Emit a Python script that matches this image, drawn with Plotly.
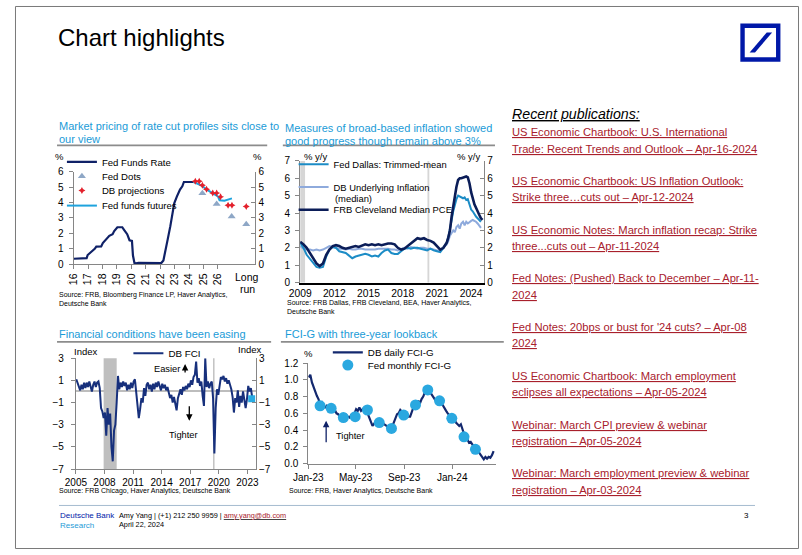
import plotly.graph_objects as go
import numpy as np
import pandas as pd

# ======================= DATA =======================
# Chart 1: Fed funds rate, Fed dots, DB projections, futures (x in years, '16 = 2016)
ffr_year = [16.0, 16.5, 16.9, 16.97, 17.24, 17.46, 17.57, 17.91, 18.02, 18.25, 18.47, 18.70, 18.81,
            19.03, 19.37, 19.48, 19.71, 19.87, 20.04, 20.11, 20.22, 20.5, 21.0, 21.5, 22.07, 22.22,
            22.40, 22.52, 22.70, 22.85, 22.97, 23.15, 23.37, 23.53, 23.64, 24.31]
ffr_rate = [0.36, 0.38, 0.40, 0.60, 0.80, 1.00, 1.15, 1.16, 1.37, 1.63, 1.84, 1.95, 2.15,
            2.40, 2.40, 2.25, 1.95, 1.56, 1.52, 0.57, 0.05, 0.09, 0.08, 0.08, 0.08, 0.25,
            1.00, 1.63, 2.47, 3.32, 3.95, 4.38, 4.84, 5.05, 5.33, 5.33]
futures_year = [24.31, 24.87, 25.20, 25.65, 26.00, 26.11, 26.45, 26.97]
futures_rate = [5.33, 5.10, 4.85, 4.60, 4.40, 4.15, 4.12, 4.27]
dbproj_year = [24.43, 24.70, 24.92, 25.21, 25.64, 25.91, 26.18, 26.70, 26.97, 27.96]
dbproj_rate = [5.37, 5.37, 5.12, 4.86, 4.61, 4.61, 4.38, 3.83, 3.83, 3.75]
dots_year = [24.92, 25.91, 26.95, 27.96]
dots_rate = [4.6, 3.9, 3.1, 2.6]
c1_tick_vals = [16, 17, 18, 19, 20, 21, 22, 23, 24, 25, 26]
c1_tick_text = ["16", "17", "18", "19", "20", "21", "22", "23", "24", "25", "26"]

# Chart 2: broad-based inflation measures (% y/y)
infl_year = [2009.00, 2009.29, 2009.57, 2009.86, 2010.14, 2010.43, 2010.71, 2011.00, 2011.29, 2011.57,
             2011.86, 2012.14, 2012.43, 2012.71, 2013.00, 2013.29, 2013.57, 2013.86, 2014.14, 2014.43,
             2014.71, 2015.00, 2015.29, 2015.57, 2015.86, 2016.14, 2016.43, 2016.71, 2017.00, 2017.29,
             2017.57, 2017.86, 2018.14, 2018.43, 2018.71, 2019.00, 2019.29, 2019.57, 2019.86, 2020.14,
             2020.43, 2020.71, 2021.00, 2021.29, 2021.57, 2021.86, 2022.00, 2022.14, 2022.29, 2022.43,
             2022.57, 2022.71, 2022.86, 2023.00, 2023.14, 2023.29, 2023.43, 2023.57, 2023.71, 2023.86,
             2024.00, 2024.14, 2024.29, 2024.43, 2024.57, 2024.71, 2024.86, 2025.00]
cleveland_pce = [2.35, 2.2, 2.0, 1.7, 1.4, 1.1, 0.95, 1.1, 1.6, 1.9, 2.1, 2.15, 2.1, 2.0, 1.95, 2.0, 2.05,
                 2.1, 2.05, 2.15, 2.2, 2.15, 2.2, 2.15, 2.2, 2.15, 2.2, 2.25, 2.25, 2.2, 2.0, 1.9, 1.95,
                 2.1, 2.2, 2.35, 2.55, 2.5, 2.55, 2.45, 2.4, 2.3, 2.1, 1.9, 2.0, 2.3,
                 2.6, 3.0, 3.8, 4.4, 4.9, 5.5, 5.9, 6.0, 6.0, 6.05, 6.05, 6.1, 6.05, 5.7, 5.2, 4.8,
                 4.5, 4.3, 4.05, 3.9, 3.7, 3.6]
dallas_trimmed = [2.3, 2.0, 1.6, 1.35, 1.15, 0.9, 0.85, 0.9, 1.5, 1.9, 2.05, 2.0, 1.8, 1.75, 1.7, 1.55,
                  1.4, 1.5, 1.55, 1.6, 1.65, 1.6, 1.5, 1.55, 1.5, 1.7, 1.85, 1.9, 1.7, 1.65, 1.65, 1.8,
                  1.95, 2.0, 1.95, 2.0, 2.0, 1.95, 1.9, 1.85, 1.95, 1.85, 1.8, 1.75, 2.0, 2.3,
                  2.6, 3.0, 3.6, 4.1, 4.5, 4.8, 5.0, 4.95, 4.9, 4.85, 4.9, 4.75, 4.8, 4.4, 4.2, 4.1,
                  3.9, 3.8, 3.7, 3.6, 3.5, None]
db_underlying = [2.1, 1.95, 1.9, 1.9, 1.85, 1.9, 1.85, 1.9, 2.0, 2.1, 2.05, 2.0, 1.95, 1.95, 1.9, 1.95,
                 1.9, 1.9, 1.95, 1.95, 1.9, 1.9, 1.9, 1.9, 1.95, 1.95, 1.95, 1.95, 1.9, 1.9, 1.85, 1.95,
                 2.0, 1.95, 2.05, 2.0, 1.95, 2.0, 2.0, 1.95, 1.95, 1.9, 1.85, 1.85, 2.0, 2.2,
                 2.4, 2.7, 2.85, 3.0, 2.9, 3.2, 3.3, 3.1, 3.4, 3.5, 3.3, 3.5, 3.4, 3.5, 3.55, 3.6,
                 3.55, 3.5, 3.4, 3.3, 3.15, None]
infl_recession_start = [2009.00, 2020.17]
infl_recession_end = [2009.43, 2020.33]
c2_tick_vals = [2009, 2012, 2015, 2018, 2021, 2024]

# Chart 3: DB financial conditions index
fci_start_year, fci_end_year = 2005.04, 2023.50
db_fci = [1.1, 0.8, 0.5, 0.1, 0.6, 0.2, 0.8, 0.3, 0.8, 0.4, 0.9, 0.5, 0.0, 0.6, 0.9, 0.4, 0.8, 0.9,
          0.3, -1.5, -1.8, -2.4, -1.9, -4.0, -1.5, -3.0, -2.0, -5.0, -6.3, -3.5, -3.0, -1.0, 1.4,
          0.2, 0.8, 0.4, 0.9, 0.5, 0.8, 0.1, 0.6, 0.2, 0.8, 0.3, 0.9, 1.1, 0.0, -1.3, -2.4, -1.6,
          -0.6, -1.0, 0.3, -0.4, 0.6, 0.8, 0.2, 0.6, 0.0, 0.7, 0.2, 0.8, 0.4, 0.9, 0.5, 0.1, 0.7,
          0.3, 0.6, 0.1, 0.4, -0.1, -0.6, -0.3, -1.0, -0.5, -1.2, -1.7, -0.6, -0.2, 0.2, -0.3, 0.4,
          0.1, 0.5, 0.2, 0.7, 0.4, 1.0, 0.6, 1.3, 1.5, 2.7, 0.8, 1.2, 0.5, 0.9, -0.4, -1.3, 3.0,
          0.4, 0.9, 0.3, 0.7, 0.9, -0.6, -5.6, -1.5, 0.2, -0.3, 0.7, 1.3, 1.1, 1.4, 0.9, 1.2, 0.7,
          1.0, 0.6, 0.2, -0.5, -1.9, -0.6, -1.0, 0.1, -1.4, -0.4, -1.0, 0.0, -0.6, -1.5, -0.7, 0.5,
          0.0, 0.3, -0.5]
fci_latest_year = [2023.45]
fci_latest_value = [-0.65]
fci_recession_start = [2007.91, 2019.40]
fci_recession_end = [2009.28, 2019.55]
c3_tick_vals = [2005, 2008, 2011, 2014, 2017, 2020, 2023]
c3_y_ticks = [-7, -5, -3, -1, 1, 3]

# Chart 4: FCI-G with three-year lookback
fcig_start, fcig_end = "2023-01-02", "2024-04-15"
fcig_daily = [1.03, 1.06, 0.97, 0.91, 0.85, 0.81, 0.77, 0.71, 0.73, 0.68,
              0.67, 0.69, 0.65, 0.68, 0.67, 0.63, 0.64, 0.60, 0.59, 0.56,
              0.56, 0.58, 0.55, 0.58, 0.56, 0.55, 0.58, 0.56, 0.60, 0.65,
              0.63, 0.67, 0.63, 0.65, 0.62, 0.63, 0.60, 0.56, 0.50, 0.45,
              0.47, 0.50, 0.49, 0.50, 0.48, 0.49, 0.47, 0.46, 0.44, 0.45,
              0.43, 0.44, 0.49, 0.54, 0.59, 0.60, 0.64, 0.62, 0.58, 0.56,
              0.59, 0.56, 0.56, 0.62, 0.67, 0.69, 0.71, 0.75, 0.72, 0.77,
              0.80, 0.85, 0.87, 0.89, 0.86, 0.82, 0.80, 0.77, 0.74, 0.73,
              0.76, 0.73, 0.69, 0.67, 0.63, 0.60, 0.58, 0.55, 0.53, 0.54,
              0.49, 0.47, 0.45, 0.47, 0.42, 0.35, 0.33, 0.28, 0.25, 0.26,
              0.23, 0.20, 0.19, 0.16, 0.14, 0.10, 0.08, 0.05, 0.08, 0.06,
              0.08, 0.07, 0.10, 0.15]
fcig_monthly_date = ["2023-01-31", "2023-02-28", "2023-03-31", "2023-04-30", "2023-05-31", "2023-06-30",
                     "2023-07-31", "2023-08-31", "2023-09-30", "2023-10-31", "2023-11-30", "2023-12-31",
                     "2024-01-31", "2024-02-29"]
fcig_monthly = [0.69, 0.66, 0.55, 0.56, 0.64, 0.49, 0.42, 0.58, 0.70, 0.88, 0.75, 0.54, 0.32, 0.17]
c4_tick_vals = ["2023-01-01", "2023-05-01", "2023-09-01", "2024-01-01"]
c4_tick_text = ["Jan-23", "May-23", "Sep-23", "Jan-24"]

# Publications list (text)
publications = [
    ["US Economic Chartbook: U.S. International", "Trade: Recent Trends and Outlook \u2013 Apr-16-2024"],
    ["US Economic Chartbook: US Inflation Outlook:", "Strike three\u2026cuts out \u2013 Apr-12-2024"],
    ["US Economic Notes: March inflation recap: Strike", "three...cuts out \u2013 Apr-11-2024"],
    ["Fed Notes: (Pushed) Back to December \u2013 Apr-11-", "2024"],
    ["Fed Notes: 20bps or bust for '24 cuts? \u2013 Apr-08", "2024"],
    ["US Economic Chartbook: March employment", "eclipses all expectations \u2013 Apr-05-2024"],
    ["Webinar: March CPI preview & webinar", "registration \u2013 Apr-05-2024"],
    ["Webinar: March employment preview & webinar", "registration \u2013 Apr-03-2024"],
]

# ======================= LAYOUT HELPERS =======================
W, H = 802, 555
FONT = "Arial, 'Liberation Sans', sans-serif"
GREY = "#868686"
NAVY = "#0f2167"
TITLE_BLUE = "#1a9bd7"
LINK_RED = "#a8202c"


def px(x):
    return x / W


def py(y):
    return 1 - y / H


TICKFONT = dict(family=FONT, size=10, color="black")

fig = go.Figure()

# ---------- Chart 1 traces ----------
fig.add_trace(go.Scatter(x=ffr_year, y=ffr_rate, mode="lines", name="Fed Funds Rate",
                         line=dict(color=NAVY, width=2.2), xaxis="x", yaxis="y", legend="legend"))
fig.add_trace(go.Scatter(x=futures_year, y=futures_rate, mode="lines", name="Fed funds futures",
                         line=dict(color="#1ea3dd", width=2), xaxis="x", yaxis="y", legend="legend4"))
fig.add_trace(go.Scatter(x=dots_year, y=dots_rate, mode="markers", name="Fed Dots",
                         marker=dict(symbol="triangle-up", size=7, color="#8ea7c6"),
                         xaxis="x", yaxis="y", legend="legend2"))
fig.add_trace(go.Scatter(x=dbproj_year, y=dbproj_rate, mode="markers", name="DB projections",
                         marker=dict(symbol="star-diamond", size=5, color="#e3202b"),
                         xaxis="x", yaxis="y", legend="legend3"))
fig.add_trace(go.Scatter(x=[None], y=[None], xaxis="x", yaxis="y2", showlegend=False, hoverinfo="skip"))

# ---------- Chart 2 traces ----------
fig.add_trace(go.Scatter(x=infl_year, y=db_underlying, mode="lines", name="DB Underlying Inflation",
                         line=dict(color="#8eaadc", width=2), xaxis="x2", yaxis="y3", legend="legend6"))
fig.add_trace(go.Scatter(x=infl_year, y=dallas_trimmed, mode="lines", name="Fed Dallas: Trimmed-mean",
                         line=dict(color="#1c8cc6", width=2), xaxis="x2", yaxis="y3", legend="legend5"))
fig.add_trace(go.Scatter(x=infl_year, y=cleveland_pce, mode="lines", name="FRB Cleveland Median PCE",
                         line=dict(color="#0b1d58", width=2.6), xaxis="x2", yaxis="y3", legend="legend7"))
fig.add_trace(go.Scatter(x=[None], y=[None], xaxis="x2", yaxis="y4", showlegend=False, hoverinfo="skip"))

# ---------- Chart 3 traces ----------
fci_year = np.linspace(fci_start_year, fci_end_year, len(db_fci))
fig.add_trace(go.Scatter(x=fci_year, y=db_fci, mode="lines", name="DB FCI",
                         line=dict(color="#17307c", width=2), xaxis="x3", yaxis="y5", legend="legend8"))
fig.add_trace(go.Scatter(x=fci_latest_year, y=fci_latest_value, mode="markers", showlegend=False,
                         marker=dict(symbol="square", size=7, color="#29abe2"), xaxis="x3", yaxis="y5"))
fig.add_trace(go.Scatter(x=[None], y=[None], xaxis="x3", yaxis="y6", showlegend=False, hoverinfo="skip"))

# ---------- Chart 4 traces ----------
fcig_dates = pd.date_range(fcig_start, fcig_end, periods=len(fcig_daily))
fig.add_trace(go.Scatter(x=fcig_dates, y=fcig_daily, mode="lines", name="DB daily FCI-G",
                         line=dict(color="#13286e", width=2.2), xaxis="x4", yaxis="y7", legend="legend9"))
fig.add_trace(go.Scatter(x=fcig_monthly_date, y=fcig_monthly, mode="markers", name="Fed monthly FCI-G",
                         marker=dict(symbol="circle", size=11, color="#2aa8e0"),
                         xaxis="x4", yaxis="y7", legend="legend10"))


# ======================= AXES =======================
def yax(rng, dom=None, right=False, **kw):
    d = dict(range=rng, showline=True, linecolor=GREY, linewidth=1,
             ticks="inside" if right else "outside", ticklen=4,
             tickcolor=GREY, showgrid=False, zeroline=False, tickfont=TICKFONT, fixedrange=True,
             ticklabelstandoff=0 if right else 3)
    if dom is not None:
        d["domain"] = dom
    d.update(kw)
    return d


layout_axes = dict(
    # chart 1
    xaxis=dict(domain=[px(60), px(246)], range=[16, 28.6], anchor="y", showline=True, linecolor=GREY,
               ticks="outside", ticklen=4, tickcolor=GREY, tickvals=c1_tick_vals, ticktext=c1_tick_text,
               tickangle=-90, showgrid=False, zeroline=False, tickfont=dict(TICKFONT, size=10.5)),
    yaxis=yax([0, 6], [py(264), py(169.3)], anchor="x", dtick=1),
    yaxis2=yax([0, 6], right=True, overlaying="y", side="right", anchor="x", dtick=1),
    # chart 2
    xaxis2=dict(domain=[px(291.7), px(480)], range=[2009, 2025.15], anchor="y3", showline=True,
                linecolor="black", linewidth=2, ticks="", tickvals=c2_tick_vals, showgrid=False,
                zeroline=False, tickfont=dict(TICKFONT, size=10.3)),
    yaxis3=yax([0, 7], [py(282.7), py(158.3)], anchor="x2", dtick=1),
    yaxis4=yax([0, 7], right=True, overlaying="y3", side="right", anchor="x2", dtick=1),
    # chart 3
    xaxis3=dict(domain=[px(62.3), px(246.5)], range=[2005, 2023.9], anchor="y5", showline=True,
                linecolor=GREY, ticks="outside", ticklen=4, tickcolor=GREY, tickvals=c3_tick_vals,
                showgrid=False, zeroline=False, tickfont=TICKFONT),
    yaxis5=yax([-7, 3], [py(473.3), py(360)], anchor="x3", tickvals=c3_y_ticks,
               zeroline=True, zerolinecolor="#bdbdbd", zerolinewidth=1.5, ticklabelstandoff=5),
    yaxis6=yax([-7, 3], right=True, overlaying="y5", side="right", anchor="x3", tickvals=c3_y_ticks),
    # chart 4
    xaxis4=dict(domain=[px(300), px(492)], type="date", range=["2023-01-01", "2024-04-21"], anchor="y7",
                showline=True, linecolor=GREY, ticks="outside", ticklen=4, tickcolor=GREY,
                tickvals=c4_tick_vals, ticktext=c4_tick_text, showgrid=False, zeroline=False,
                tickfont=TICKFONT),
    yaxis7=yax([0, 1.2], [py(467.7), py(365)], anchor="x4", dtick=0.2, tickformat=".1f"),
)


# ======================= LEGENDS =======================
def leg(text_x, y_c, size):
    return dict(x=px(text_x - 40), y=py(y_c), xanchor="left", yanchor="middle",
                bgcolor="rgba(0,0,0,0)", borderwidth=0, itemwidth=30,
                font=dict(family=FONT, size=size, color="black"))


legends = dict(
    legend=leg(88, 159.3, 9.6), legend2=leg(88, 174, 9.6), legend3=leg(88, 188.7, 9.6),
    legend4=leg(88, 204, 9.6),
    legend5=leg(325, 161.7, 9.4), legend6=leg(325, 185, 9.4), legend7=leg(325, 208.3, 9.4),
    legend8=leg(156, 355, 9.8),
    legend9=leg(360, 354, 9.8), legend10=leg(360, 367, 9.8),
)


# ======================= ANNOTATIONS =======================
def txt(x, y, s, size=10.0, color="black", xanchor="left", yanchor="middle"):
    return dict(x=px(x), y=py(y), xref="paper", yref="paper", text=s, showarrow=False,
                xanchor=xanchor, yanchor=yanchor, font=dict(family=FONT, size=size, color=color))


def arrow(x, y_head, dy_tail, color="black"):
    return dict(x=px(x), y=py(y_head), xref="paper", yref="paper", text="", showarrow=True,
                ax=0, ay=dy_tail, arrowhead=2, arrowsize=1, arrowwidth=1.3, arrowcolor=color)


ann = []
ann.append(txt(42, 32, "Chart highlights", size=24))
# chart titles
ann.append(txt(43, 122.7, "Market pricing of rate cut profiles sits close to", 11, TITLE_BLUE))
ann.append(txt(43, 135.5, "our view", 11, TITLE_BLUE))
ann.append(txt(274, 124.5, "Measures of broad-based inflation showed", 11, TITLE_BLUE))
ann.append(txt(274, 137.5, "good progress though remain above 3%", 11, TITLE_BLUE))
ann.append(txt(43, 335.5, "Financial conditions have been easing", 11, TITLE_BLUE))
ann.append(txt(274, 335.5, "FCI-G with three-year lookback", 11, TITLE_BLUE))
# sources
ann.append(txt(43, 295.5, "Source: FRB, Bloomberg Finance LP, Haver Analytics,", 7))
ann.append(txt(43, 304.5, "Deutsche Bank", 7))
ann.append(txt(276, 303.5, "Source: FRB Dallas, FRB Cleveland, BEA, Haver Analytics,", 7))
ann.append(txt(276, 312.5, "Deutsche Bank", 7))
ann.append(txt(43, 495.5, "Source: FRB Chicago, Haver Analytics, Deutsche Bank", 7))
ann.append(txt(278, 495.5, "Source: FRB, Haver Analytics, Deutsche Bank", 7))
# axis unit labels
ann.append(txt(46, 153.5, "%", 9.5, xanchor="center"))
ann.append(txt(248.5, 153.5, "%", 9.5, xanchor="center"))
ann.append(txt(237.5, 276.5, "Long", 10.5, xanchor="center"))
ann.append(txt(237.5, 289, "run", 10.5, xanchor="center"))
ann.append(txt(307.5, 153.5, "% y/y", 9.5, xanchor="center"))
ann.append(txt(463.5, 153.5, "% y/y", 9.5, xanchor="center"))
ann.append(txt(325, 196.7, "(median)", 9.4))
ann.append(txt(71.7, 353.3, "Index", 9.5, xanchor="center"))
ann.append(txt(240, 350.7, "Index", 9.5, xanchor="center"))
ann.append(txt(300, 355, "%", 9.5, xanchor="center"))
# easier / tighter
ann.append(txt(140, 371.5, "Easier", 9.3))
ann.append(arrow(174, 366, 10))
ann.append(txt(155, 438.3, "Tighter", 9.3))
ann.append(arrow(178.3, 424, -16))
ann.append(txt(326.5, 439.3, "Tighter", 9.3))
ann.append(arrow(318.3, 424, 23, color=NAVY))
# recent publications
ann.append(txt(506.5, 110, "<i><u>Recent publications:</u></i>", 14.2))
for i, (l1, l2) in enumerate(publications):
    y0 = 129 + i * 49.8
    ann.append(txt(506.5, y0, "<u>" + l1 + "</u>", 11.2, LINK_RED))
    ann.append(txt(506.5, y0 + 16.7, "<u>" + l2 + "</u>", 11.2, LINK_RED))
# footer
ann.append(txt(44, 520.5, "Deutsche Bank", 8, "#0018a8"))
ann.append(txt(44, 530.5, "Research", 8, "#1f9bd7"))
ann.append(txt(104.5, 520.5, "Amy Yang | (+1) 212 250 9959 | <u><span style='color:" + LINK_RED +
               "'>amy.yang@db.com</span></u>", 7.3))
ann.append(txt(104.5, 529.5, "April 22, 2024", 7.3))
ann.append(txt(748, 520.5, "3", 8, xanchor="center"))

# ======================= SHAPES =======================
shapes = []
# slide border
shapes.append(dict(type="rect", xref="paper", yref="paper", x0=px(0.5), x1=px(801.5), y0=py(554.5),
                   y1=py(0.5), line=dict(color="#7a7a7a", width=1)))
# title rules
for x0, x1, y in [(43, 258, 142.5), (274, 491, 142.5), (43, 262, 343.3), (272, 500, 343.3)]:
    shapes.append(dict(type="line", xref="paper", yref="paper", x0=px(x0), x1=px(x1), y0=py(y), y1=py(y),
                       line=dict(color="#8c8c8c", width=1.6)))
# footer rule
shapes.append(dict(type="line", xref="paper", yref="paper", x0=px(45), x1=px(757), y0=py(510.5),
                   y1=py(510.5), line=dict(color="#a6bccf", width=1)))
# recession shading
for s, e in zip(infl_recession_start, infl_recession_end):
    shapes.append(dict(type="rect", xref="x2", yref="y3 domain", x0=s, x1=e, y0=0, y1=1,
                       fillcolor="#d6d6d6", line=dict(width=0), layer="below"))
for s, e in zip(fci_recession_start, fci_recession_end):
    shapes.append(dict(type="rect", xref="x3", yref="y5 domain", x0=s, x1=e, y0=0, y1=1,
                       fillcolor="#bfbfbf", line=dict(width=0), layer="below"))
# DB logo
shapes.append(dict(type="rect", xref="paper", yref="paper", x0=px(742), x1=px(783), y0=py(57), y1=py(18),
                   fillcolor="#0018a8", line=dict(width=0)))
shapes.append(dict(type="rect", xref="paper", yref="paper", x0=px(746.5), x1=px(778.5), y0=py(52.5),
                   y1=py(22.5), fillcolor="white", line=dict(width=0)))
path = "M {} {} L {} {} L {} {} L {} {} Z".format(px(751.5), py(47.5), px(757), py(47.5),
                                                  px(774.5), py(27), px(769), py(27))
shapes.append(dict(type="path", xref="paper", yref="paper", path=path, fillcolor="#0018a8",
                   line=dict(width=0)))

fig.update_layout(
    width=W, height=H, margin=dict(l=0, r=0, t=0, b=0, pad=0),
    paper_bgcolor="white", plot_bgcolor="rgba(0,0,0,0)",
    font=dict(family=FONT, color="black"),
    hovermode=False,
    annotations=ann, shapes=shapes,
    **layout_axes, **legends,
)

fig.write_html("out.html", config={"displayModeBar": False},
               post_script="document.body.style.margin='0px';document.body.style.padding='0px';"
                           "document.body.style.overflow='hidden';")
